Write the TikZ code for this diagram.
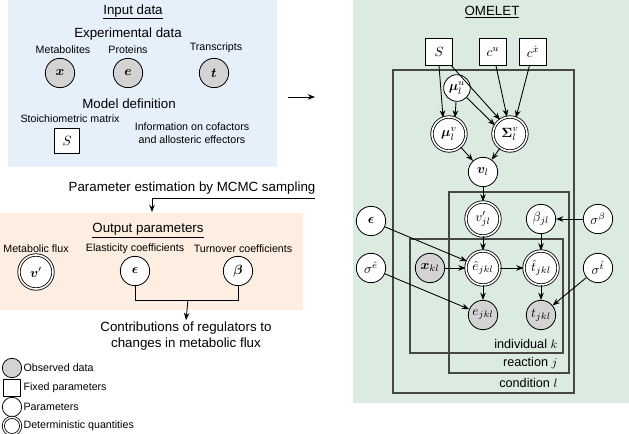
\documentclass[tikz,border=0pt]{standalone}
\usepackage{amsmath}
\usepackage{bm}
\usepackage{fontspec}
\setmainfont{Liberation Sans}
\usetikzlibrary{arrows.meta}
\definecolor{bluebg}{HTML}{E5F0FB}
\definecolor{greenbg}{HTML}{DBEBDF}
\definecolor{orangebg}{HTML}{FDEEE1}
\definecolor{obsgray}{HTML}{D3D3D3}
\definecolor{plategray}{HTML}{474747}
\tikzset{
  obs/.style={circle, draw, fill=obsgray, minimum size=22pt, inner sep=0pt, line width=0.6pt},
  prm/.style={circle, draw, fill=white, minimum size=22pt, inner sep=0pt, line width=0.6pt},
  det/.style={circle, draw, double=white, double distance=1.2pt, fill=white, minimum size=25.5pt, inner sep=0pt, line width=0.6pt},
  fixd/.style={rectangle, draw, fill=white, minimum size=20pt, inner sep=0pt, line width=0.6pt},
  lbl/.style={font=\fontsize{8}{9.5}\selectfont, align=center, inner sep=1pt},
  head/.style={font=\fontsize{10}{12}\selectfont, align=center, inner sep=1pt},
  platelbl/.style={font=\fontsize{9.5}{11}\selectfont, anchor=east, inner sep=1pt},
  arr/.style={-{Stealth[length=5.5pt,width=4.2pt]}, line width=0.65pt},
  plate/.style={draw=plategray, line width=1pt},
}
\begin{document}
\begin{tikzpicture}[x=0.75pt,y=-0.75pt]
\useasboundingbox (0,0) rectangle (629,434);
% backgrounds
\fill[bluebg] (8,0) rectangle (277,167);
\fill[orangebg] (0,213) rectangle (303,310);
\fill[greenbg] (353,0) rectangle (629,403);

% ---------- Input data ----------
\node[head] (indata) at (133,12) {\underline{Input data}};
\node[head] (expdata) at (128,34) {Experimental data};
\node[lbl] (lmet) at (63,50) {Metabolites};
\node[lbl] (lpro) at (128,50) {Proteins};
\node[lbl] (ltra) at (216,48) {Transcripts};
\node[obs] (ix) at (60,73) {$\bm{x}$};
\node[obs] (ie) at (128,73) {$\bm{e}$};
\node[obs] (it) at (214,73) {$\bm{t}$};
\node[head] (moddef) at (129,104) {Model definition};
\node[lbl] (lsto) at (70,119) {Stoichiometric matrix};
\node[fixd, minimum size=19pt] (iS) at (67,141) {$S$};
\node[lbl] (linfo) at (192,133) {Information on cofactors\\and allosteric effectors};

\coordinate (ra1) at (288,97);
\coordinate (ra2) at (315,97);
\draw[arr] (ra1) -- (ra2);

% ---------- MCMC ----------
\node[head] (mcmc) at (192,188) {Parameter estimation by MCMC sampling};
\coordinate (m1) at (315,198);
\coordinate (m2) at (152,212);
\draw[arr] (m1) -| (m2);

% ---------- Output parameters ----------
\node[head] (outp) at (148,231) {\underline{Output parameters}};
\node[lbl] (lflux) at (36,249) {Metabolic flux};
\node[lbl] (lela) at (135,249) {Elasticity coefficients};
\node[lbl] (ltur) at (243,249) {Turnover coefficients};
\node[det] (ov) at (36,272) {$\bm{v}'$};
\node[prm] (oeps) at (135,271) {$\bm{\epsilon}$};
\node[prm] (obeta) at (238,271) {$\bm{\beta}$};
\coordinate (jm) at (188,300);
\draw[line width=0.65pt] (oeps.south) -- (oeps.south |- jm) -| (obeta.south);
\node[head] (contrib) at (186,336) {Contributions of regulators to\\changes in metabolic flux};
\draw[arr] (jm) -- (contrib.north);

% ---------- Legend ----------
\node[obs, minimum size=14.5pt] (g1) at (12,368) {};
\node[lbl, anchor=west] (t1) at (22,368) {Observed data};
\node[fixd, minimum size=12.5pt] (g2) at (12,388) {};
\node[lbl, anchor=west] (t2) at (22,388) {Fixed parameters};
\node[prm, minimum size=14.5pt] (g3) at (12,407) {};
\node[lbl, anchor=west] (t3) at (22,407) {Parameters};
\node[det, minimum size=13pt, double distance=1pt] (g4) at (12,426) {};
\node[lbl, anchor=west] (t4) at (22,426) {Deterministic quantities};

% ---------- OMELET ----------
\node[head] (omelet) at (492,12) {\underline{OMELET}};
% plates
\draw[plate] (393,70) rectangle (574,393);
\draw[plate] (449,192) rectangle (569,373);
\draw[plate] (410,239) rectangle (563,353);
\node[platelbl] (pk) at (559,344) {individual $k$};
\node[platelbl] (pj) at (559,363) {reaction $j$};
\node[platelbl] (pl) at (559,383) {condition $l$};

\node[fixd] (S) at (439,52) {$S$};
\node[fixd] (cu) at (493,52) {$c^{u}$};
\node[fixd] (cx) at (533,52) {$c^{\dot{x}}$};
\node[prm, minimum size=20pt] (mu) at (457,88) {$\bm{\mu}^{u}_{l}$};
\node[det] (mv) at (449,134) {$\bm{\mu}^{v}_{l}$};
\node[det] (Sv) at (510,134) {$\bm{\Sigma}^{v}_{l}$};
\node[prm] (vl) at (483,172) {$\bm{v}_{l}$};
\node[det] (vp) at (483,219) {$v'_{jl}$};
\node[prm] (bjl) at (541,219) {$\beta_{jl}$};
\node[prm] (sb) at (598,219) {$\sigma^{\beta}$};
\node[prm] (eps) at (371,221) {$\bm{\epsilon}$};
\node[prm] (se) at (371,268) {$\sigma^{\hat{e}}$};
\node[obs] (xkl) at (430,268) {$\bm{x}_{kl}$};
\node[det] (eh) at (483,268) {$\hat{e}_{jkl}$};
\node[det] (th) at (541,268) {$\hat{t}_{jkl}$};
\node[prm] (st) at (598,268) {$\sigma^{\hat{t}}$};
\node[obs] (ejkl) at (483,315) {$e_{jkl}$};
\node[obs] (tjkl) at (541,315) {$t_{jkl}$};

\draw[arr] (S.south) -- (mv.110);
\draw[arr] (mu) -- (mv.70);
\draw[arr] (mu) -- (Sv.150);
\draw[arr] (S) -- (Sv.125);
\draw[arr] (cu) -- (Sv.100);
\draw[arr] (cx) -- (Sv.70);
\draw[arr] (mv) -- (vl);
\draw[arr] (Sv) -- (vl);
\draw[arr] (vl) -- (vp);
\draw[arr] (vp) -- (eh);
\draw[arr] (bjl) -- (th);
\draw[arr] (sb) -- (bjl);
\draw[arr] (eps) -- (eh);
\draw[arr] (xkl) -- (eh);
\draw[arr] (eh) -- (th);
\draw[arr] (eh) -- (ejkl);
\draw[arr] (th) -- (tjkl);
\draw[arr] (se) -- (ejkl);
\draw[arr] (st) -- (tjkl);
\end{tikzpicture}
\end{document}
